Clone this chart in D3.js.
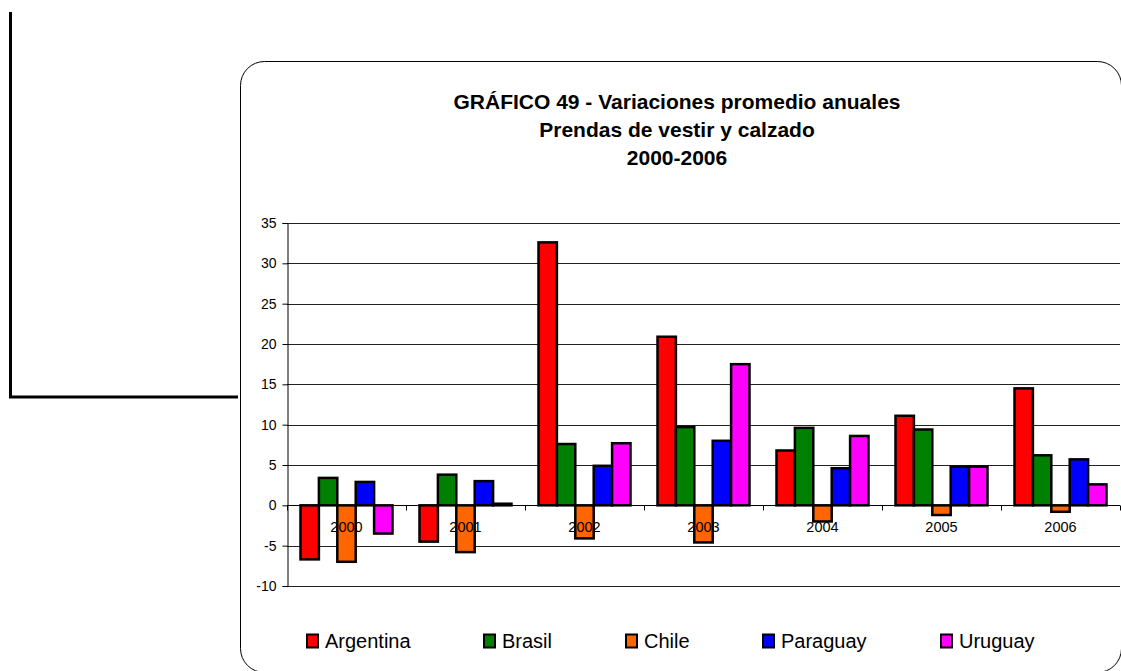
<!DOCTYPE html>
<html>
<head>
<meta charset="utf-8">
<script src="https://cdn.jsdelivr.net/npm/d3@7"></script>
<style>
  body { margin: 0; background: #fff; }
  svg { display: block; font-family: "Liberation Sans", Arial, sans-serif; }
</style>
</head>
<body>
<script>
const width = 1121;
const height = 671;

// data
const years = ["2000", "2001", "2002", "2003", "2004", "2005", "2006"];
const countries = ["Argentina", "Brasil", "Chile", "Paraguay", "Uruguay"];
const colors = ["#ff0000", "#008000", "#ff6600", "#0000ff", "#ff00ff"];
const argentina = [-6.7, -4.5, 32.6, 20.9, 6.8, 11.1, 14.5];
const brasil = [3.4, 3.8, 7.6, 9.7, 9.6, 9.4, 6.2];
const chile = [-7.0, -5.8, -4.1, -4.6, -2.0, -1.2, -0.8];
const paraguay = [2.9, 3.0, 4.9, 8.0, 4.6, 4.8, 5.7];
const uruguay = [-3.5, 0.2, 7.7, 17.5, 8.6, 4.8, 2.6];
const yTicks = [-10, -5, 0, 5, 10, 15, 20, 25, 30, 35];
const titleLines = ["GRÁFICO 49 - Variaciones promedio anuales", "Prendas de vestir y calzado", "2000-2006"];

const series = [argentina, brasil, chile, paraguay, uruguay];

const svg = d3.select("body").append("svg")
  .attr("width", width)
  .attr("height", height);

// stray frame lines at the left
svg.append("path")
  .attr("d", "M10.5,12 V397 H238")
  .attr("fill", "none")
  .attr("stroke", "#000")
  .attr("stroke-width", 3);

// chart area with rounded corners
svg.append("rect")
  .attr("x", 240.5).attr("y", 61.5)
  .attr("width", 881).attr("height", 611)
  .attr("rx", 24).attr("ry", 24)
  .attr("fill", "#fff")
  .attr("stroke", "#000")
  .attr("stroke-width", 1);

// title
svg.append("g").selectAll("text")
  .data(titleLines)
  .enter().append("text")
  .attr("x", 677)
  .attr("y", (d, i) => 109 + i * 28)
  .attr("text-anchor", "middle")
  .style("font-size", "21px")
  .style("font-weight", "bold")
  .text(d => d);

const xScale = d3.scaleBand()
  .domain(years)
  .range([287, 1120]);

const xInner = d3.scaleBand()
  .domain(countries)
  .range([13.5, xScale.bandwidth() - 13.5]);

const yScale = d3.scaleLinear()
  .domain([-10, 35])
  .range([586, 223]);

// gridlines
svg.append("g").selectAll("line")
  .data(yTicks)
  .enter().append("line")
  .attr("x1", 287).attr("x2", 1120)
  .attr("y1", d => Math.round(yScale(d)) + 0.5)
  .attr("y2", d => Math.round(yScale(d)) + 0.5)
  .attr("stroke", "#222")
  .attr("stroke-width", 1);

// y axis
const yAxis = svg.append("g")
  .attr("transform", "translate(287.5,0)")
  .call(d3.axisLeft(yScale).tickValues(yTicks).tickSize(5).tickPadding(6)
    .tickFormat(d => String(d)));
yAxis.selectAll("text").style("font-size", "14px").attr("fill", "#000");
yAxis.select(".domain").attr("stroke", "#000");

// bars
const groups = svg.append("g").selectAll("g")
  .data(years)
  .enter().append("g")
  .attr("transform", d => `translate(${xScale(d)},0)`);

groups.selectAll("rect")
  .data((d, i) => series.map((s, j) => ({ c: countries[j], v: s[i], col: colors[j] })))
  .enter().append("rect")
  .attr("x", d => xInner(d.c))
  .attr("y", d => yScale(Math.max(0, d.v)))
  .attr("width", xInner.bandwidth())
  .attr("height", d => Math.abs(yScale(d.v) - yScale(0)))
  .attr("fill", d => d.col)
  .attr("stroke", "#000")
  .attr("stroke-width", 2.5);

// x axis along zero
const y0 = Math.round(yScale(0)) + 0.5;
svg.append("line")
  .attr("x1", 287).attr("x2", 1120)
  .attr("y1", y0).attr("y2", y0)
  .attr("stroke", "#000");

svg.append("g").selectAll("line")
  .data(years.concat(["end"]))
  .enter().append("line")
  .attr("x1", (d, i) => Math.round(287 + i * xScale.bandwidth()) + 0.5)
  .attr("x2", (d, i) => Math.round(287 + i * xScale.bandwidth()) + 0.5)
  .attr("y1", y0).attr("y2", y0 + 5)
  .attr("stroke", "#000");

svg.append("g").selectAll("text")
  .data(years)
  .enter().append("text")
  .attr("x", d => xScale(d) + xScale.bandwidth() / 2)
  .attr("y", 532)
  .attr("text-anchor", "middle")
  .style("font-size", "14.5px")
  .text(d => d);

// legend
const legendX = [306, 483, 625, 762, 940];
const legend = svg.append("g").selectAll("g")
  .data(countries)
  .enter().append("g")
  .attr("transform", (d, i) => `translate(${legendX[i]},634)`);

legend.append("rect")
  .attr("x", 1).attr("y", 0.5)
  .attr("width", 11).attr("height", 13)
  .attr("fill", (d, i) => colors[i])
  .attr("stroke", "#000")
  .attr("stroke-width", 2);

legend.append("text")
  .attr("x", 19).attr("y", 14)
  .style("font-size", "20px")
  .text(d => d);
</script>
</body>
</html>
